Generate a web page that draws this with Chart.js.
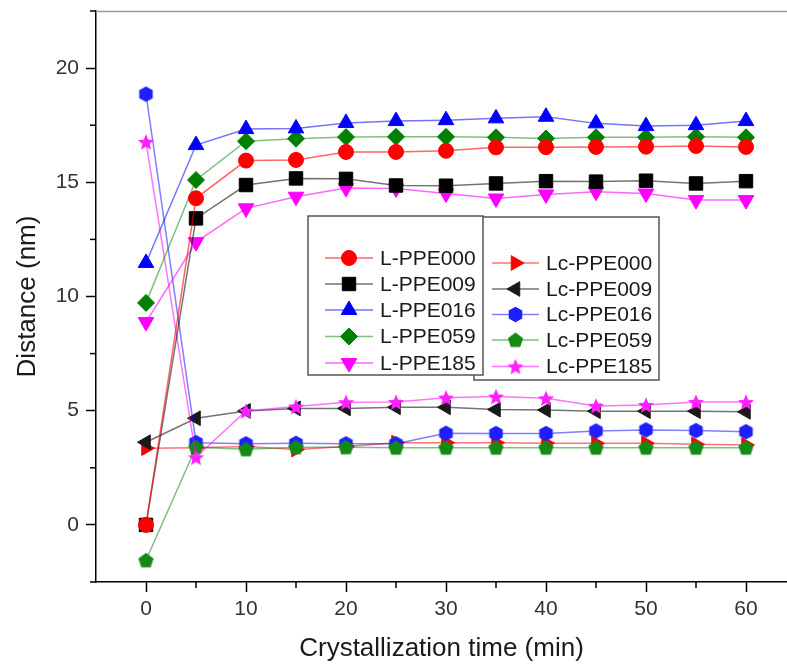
<!DOCTYPE html>
<html>
<head>
<meta charset="utf-8">
<script src="https://cdn.jsdelivr.net/npm/chart.js@4/dist/chart.umd.min.js"></script>
<style>
  body { margin: 0; background: #fff; }
  canvas { display: block; }
</style>
</head>
<body>
<canvas id="distChart" width="787" height="664"></canvas>
<script>
// crystallization time (min)
const times = [0, 5, 10, 15, 20, 25, 30, 35, 40, 45, 50, 55, 60];

// L series
const lPPE000 = [0, 14.3, 15.95, 15.98, 16.33, 16.33, 16.38, 16.53, 16.54, 16.55, 16.56, 16.59, 16.55];
const lPPE009 = [0, 13.42, 14.88, 15.17, 15.15, 14.86, 14.85, 14.95, 15.05, 15.03, 15.07, 14.95, 15.05];
const lPPE016 = [11.47, 16.63, 17.33, 17.36, 17.6, 17.68, 17.72, 17.8, 17.87, 17.58, 17.46, 17.5, 17.68];
const lPPE059 = [9.72, 15.1, 16.8, 16.91, 16.98, 16.99, 16.99, 16.97, 16.92, 16.97, 16.97, 16.99, 16.97];
const lPPE185 = [8.88, 12.38, 13.86, 14.37, 14.75, 14.73, 14.51, 14.29, 14.47, 14.59, 14.51, 14.22, 14.22];

// Lc series
const lcPPE000 = [3.36, 3.38, 3.43, 3.3, 3.43, 3.6, 3.6, 3.6, 3.58, 3.57, 3.57, 3.53, 3.5];
const lcPPE009 = [3.62, 4.67, 4.99, 5.1, 5.1, 5.15, 5.15, 5.05, 5.03, 4.98, 4.98, 4.98, 4.95];
const lcPPE016 = [18.86, 3.6, 3.55, 3.57, 3.55, 3.55, 4.01, 4.0, 4.0, 4.11, 4.16, 4.13, 4.08];
const lcPPE059 = [-1.55, 3.4, 3.31, 3.4, 3.4, 3.38, 3.38, 3.38, 3.38, 3.38, 3.38, 3.38, 3.38];
const lcPPE185 = [16.77, 2.96, 4.99, 5.18, 5.37, 5.38, 5.57, 5.62, 5.54, 5.21, 5.25, 5.38, 5.38];

const seriesNames = ['L-PPE000', 'L-PPE009', 'L-PPE016', 'L-PPE059', 'L-PPE185',
                     'Lc-PPE000', 'Lc-PPE009', 'Lc-PPE016', 'Lc-PPE059', 'Lc-PPE185'];

const xTicks = [0, 10, 20, 30, 40, 50, 60];
const yTicks = [0, 5, 10, 15, 20];

const FONT = "'Liberation Sans', Arial, sans-serif";

// polygon markers Chart.js doesn't have built in (filled)
function makeMarker(shape, color, r) {
    const c = document.createElement('canvas');
    const s = Math.ceil(r * 2 + 3);
    c.width = s; c.height = s;
    const g = c.getContext('2d');
    const cx = s / 2, cy = s / 2;
    g.beginPath();
    if (shape === 'hexagon') {
        for (let i = 0; i < 6; i++) {
            const a = -Math.PI / 2 + i * Math.PI / 3;
            const px = cx + r * Math.cos(a), py = cy + r * Math.sin(a);
            i ? g.lineTo(px, py) : g.moveTo(px, py);
        }
    } else if (shape === 'pentagon') {
        for (let i = 0; i < 5; i++) {
            const a = -Math.PI / 2 + i * 2 * Math.PI / 5;
            const px = cx + r * Math.cos(a), py = cy + 0.6 + r * Math.sin(a);
            i ? g.lineTo(px, py) : g.moveTo(px, py);
        }
    } else if (shape === 'star') {
        for (let i = 0; i < 10; i++) {
            const a = -Math.PI / 2 + i * Math.PI / 5;
            const rr = i % 2 ? r * 0.45 : r;
            const px = cx + rr * Math.cos(a), py = cy + 0.8 + rr * Math.sin(a);
            i ? g.lineTo(px, py) : g.moveTo(px, py);
        }
    }
    g.closePath();
    g.fillStyle = color;
    g.fill();
    return c;
}

const styles = [
    { color: '#ff0000', line: 'rgba(255,0,0,0.6)',   pointStyle: 'circle',   radius: 7.5, rotation: 0 },
    { color: '#000000', line: 'rgba(0,0,0,0.55)',    pointStyle: 'rect',     radius: 9.5, rotation: 0 },
    { color: '#0000ff', line: 'rgba(0,0,255,0.55)',  pointStyle: 'triangle', radius: 9,   rotation: 0 },
    { color: '#008000', line: 'rgba(0,128,0,0.5)',   pointStyle: 'rectRot',  radius: 8.5, rotation: 0 },
    { color: '#ff00ff', line: 'rgba(255,0,255,0.6)', pointStyle: 'triangle', radius: 9,   rotation: 180 },
    { color: '#ff0000', line: 'rgba(255,0,0,0.55)',  pointStyle: 'triangle', radius: 8.5, rotation: 90 },
    { color: '#1a1a1a', line: 'rgba(0,0,0,0.55)',    pointStyle: 'triangle', radius: 8.5, rotation: 270 },
    { color: '#1e1eff', line: 'rgba(0,0,255,0.5)',   pointStyle: makeMarker('hexagon', '#1e1eff', 7.8) },
    { color: '#138a13', line: 'rgba(0,128,0,0.5)',   pointStyle: makeMarker('pentagon', '#138a13', 8) },
    { color: '#ff22ff', line: 'rgba(255,0,255,0.55)', pointStyle: makeMarker('star', '#ff22ff', 8.5) }
];

const seriesData = [lPPE000, lPPE009, lPPE016, lPPE059, lPPE185,
                    lcPPE000, lcPPE009, lcPPE016, lcPPE059, lcPPE185];

// L: first series on top; Lc: later series on top
const drawOrder = [0, 1, 2, 3, 4, 9, 8, 7, 6, 5];

const datasets = seriesData.map((vals, i) => ({
    label: seriesNames[i],
    data: times.map((t, k) => ({ x: t, y: vals[k] })),
    borderColor: styles[i].line,
    backgroundColor: styles[i].color,
    pointBorderColor: styles[i].color,
    pointBackgroundColor: styles[i].color,
    pointStyle: styles[i].pointStyle,
    pointRadius: styles[i].radius || 8,
    pointRotation: styles[i].rotation || 0,
    pointBorderWidth: 1,
    borderWidth: 1.5,
    showLine: true,
    tension: 0,
    order: drawOrder[i]
}));

// minor ticks + top frame line
const framePlugin = {
    id: 'frame',
    afterDraw(chart) {
        const ctx = chart.ctx;
        const xs = chart.scales.x, ys = chart.scales.y;
        const area = chart.chartArea;
        ctx.save();
        ctx.strokeStyle = '#000';
        ctx.lineWidth = 1.5;
        for (let v = 5; v <= 60; v += 10) {
            const px = xs.getPixelForValue(v);
            ctx.beginPath();
            ctx.moveTo(px, area.bottom);
            ctx.lineTo(px, area.bottom + 6);
            ctx.stroke();
        }
        for (let v = -2.5; v <= 22.5; v += 5) {
            const py = ys.getPixelForValue(v);
            ctx.beginPath();
            ctx.moveTo(area.left, py);
            ctx.lineTo(area.left - 6, py);
            ctx.stroke();
        }
        ctx.strokeStyle = '#9a9a9a';
        ctx.lineWidth = 1.5;
        ctx.beginPath();
        ctx.moveTo(area.left, area.top + 0.5);
        ctx.lineTo(area.right, area.top + 0.5);
        ctx.stroke();
        ctx.restore();
    }
};

// two boxed legends like the original figure
function drawLegendBox(ctx, chart, idxs, box, lineX0, lineX1, textX, rows) {
    ctx.fillStyle = '#fff';
    ctx.fillRect(box.x, box.y, box.w, box.h);
    ctx.strokeStyle = '#555';
    ctx.lineWidth = 1.5;
    ctx.strokeRect(box.x, box.y, box.w, box.h);
    idxs.forEach((i, r) => {
        const ds = chart.data.datasets[i];
        const y = rows[r];
        ctx.strokeStyle = ds.borderColor;
        ctx.lineWidth = 1.5;
        ctx.beginPath();
        ctx.moveTo(lineX0, y);
        ctx.lineTo(lineX1, y);
        ctx.stroke();
        ctx.fillStyle = ds.pointBackgroundColor;
        ctx.strokeStyle = ds.pointBorderColor;
        ctx.lineWidth = 1;
        Chart.helpers.drawPoint(ctx, {
            pointStyle: ds.pointStyle,
            radius: ds.pointRadius,
            rotation: ds.pointRotation,
            borderWidth: 1
        }, (lineX0 + lineX1) / 2, y);
        ctx.fillStyle = '#1a1a1a';
        ctx.font = '21px ' + FONT;
        ctx.textBaseline = 'middle';
        ctx.textAlign = 'left';
        ctx.fillText(ds.label, textX, y + 1);
    });
}

const legendPlugin = {
    id: 'boxLegend',
    afterDraw(chart) {
        const ctx = chart.ctx;
        ctx.save();
        drawLegendBox(ctx, chart, [5, 6, 7, 8, 9], { x: 474, y: 217, w: 185, h: 163 },
            492, 539, 546, [263, 289, 314.5, 340, 366.5]);
        drawLegendBox(ctx, chart, [0, 1, 2, 3, 4], { x: 308, y: 216, w: 175, h: 159 },
            325, 373, 380, [258, 284, 310, 336.5, 363]);
        ctx.restore();
    }
};

function noPad(axis) {
    axis.paddingLeft = 0;
    axis.paddingRight = 0;
    axis.paddingTop = 0;
    axis.paddingBottom = 0;
}

new Chart(document.getElementById('distChart'), {
    type: 'scatter',
    data: { datasets: datasets },
    options: {
        responsive: false,
        animation: false,
        layout: { autoPadding: false, padding: { top: 11, right: 0, left: 0, bottom: 0 } },
        plugins: { legend: { display: false }, tooltip: { enabled: false } },
        scales: {
            x: {
                type: 'linear',
                min: -5,
                max: 64.1,
                afterBuildTicks: axis => { axis.ticks = xTicks.map(v => ({ value: v })); },
                afterFit: axis => { axis.height = 82; noPad(axis); },
                border: { color: '#000', width: 1.5 },
                grid: { drawOnChartArea: false, drawTicks: true, tickLength: 10, tickWidth: 1.5, tickColor: '#000' },
                ticks: { color: '#333', padding: 5, font: { family: FONT, size: 21 }, callback: v => v, maxRotation: 0 },
                title: { display: true, text: 'Crystallization time (min)', color: '#1a1a1a',
                         font: { family: FONT, size: 26 }, padding: 0 }
            },
            y: {
                type: 'linear',
                min: -2.5,
                max: 22.5,
                afterBuildTicks: axis => { axis.ticks = yTicks.map(v => ({ value: v })); },
                afterFit: axis => { axis.width = 96; noPad(axis); },
                border: { color: '#000', width: 1.5 },
                grid: { drawOnChartArea: false, drawTicks: true, tickLength: 10, tickWidth: 1.5, tickColor: '#000' },
                ticks: { color: '#333', padding: 7, font: { family: FONT, size: 21 }, callback: v => v },
                title: { display: true, text: 'Distance (nm)', color: '#1a1a1a',
                         font: { family: FONT, size: 26 }, padding: { top: 12, bottom: 0 } }
            }
        }
    },
    plugins: [framePlugin, legendPlugin]
});
</script>
</body>
</html>
